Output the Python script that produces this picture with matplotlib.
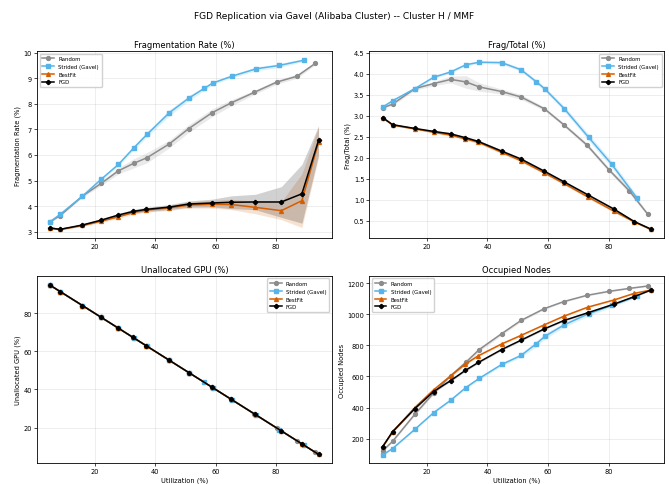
import matplotlib
matplotlib.use("Agg")
import matplotlib.pyplot as plt
import numpy as np

# utilization (x) per series
util_random = [5.35, 8.66, 16.0, 22.2, 27.9, 32.9, 37.3, 44.7, 51.1, 58.8, 65.2, 72.8, 80.2, 86.9, 92.9]
util_strided = [5.35, 8.66, 16.0, 22.2, 27.9, 32.9, 37.3, 44.7, 51.1, 56.2, 59.0, 65.4, 73.4, 81.0, 89.3]
util_bestfit = [5.35, 8.66, 16.0, 22.2, 27.9, 32.7, 37.0, 44.7, 51.1, 58.8, 65.2, 73.1, 81.7, 88.5, 94.0]
util_fgd = [5.35, 8.66, 16.0, 22.2, 27.9, 32.7, 37.0, 44.7, 51.1, 58.8, 65.2, 73.1, 81.7, 88.5, 94.0]

# Fragmentation rate (%)
frag_random = [3.39, 3.63, 4.39, 4.89, 5.38, 5.67, 5.89, 6.43, 7.03, 7.65, 8.04, 8.45, 8.85, 9.08, 9.58]
frag_strided = [3.39, 3.68, 4.39, 5.05, 5.63, 6.27, 6.80, 7.65, 8.22, 8.60, 8.81, 9.08, 9.37, 9.50, 9.71]
frag_bestfit = [3.14, 3.09, 3.24, 3.41, 3.58, 3.75, 3.84, 3.93, 4.04, 4.07, 4.06, 3.95, 3.82, 4.21, 6.50]
frag_fgd = [3.14, 3.09, 3.26, 3.45, 3.65, 3.79, 3.87, 3.96, 4.08, 4.12, 4.15, 4.16, 4.16, 4.48, 6.57]
frag_random_sd = [0.03, 0.03, 0.05, 0.08, 0.12, 0.18, 0.2, 0.15, 0.15, 0.15, 0.12, 0.08, 0.08, 0.08, 0.05]
frag_strided_sd = [0.03, 0.03, 0.04, 0.05, 0.06, 0.08, 0.1, 0.12, 0.1, 0.08, 0.06, 0.06, 0.08, 0.08, 0.05]
frag_bestfit_sd = [0.03, 0.03, 0.04, 0.05, 0.06, 0.08, 0.08, 0.1, 0.12, 0.15, 0.2, 0.25, 0.35, 1.05, 0.6]
frag_fgd_sd = [0.03, 0.03, 0.04, 0.05, 0.06, 0.08, 0.08, 0.1, 0.12, 0.15, 0.25, 0.3, 0.6, 1.15, 0.57]

# Frag/Total (%)
ft_random = [3.19, 3.28, 3.65, 3.77, 3.87, 3.81, 3.69, 3.58, 3.45, 3.17, 2.79, 2.31, 1.71, 1.21, 0.66]
ft_strided = [3.21, 3.36, 3.65, 3.92, 4.05, 4.22, 4.28, 4.27, 4.10, 3.81, 3.64, 3.17, 2.49, 1.85, 1.05]
ft_bestfit = [2.96, 2.78, 2.69, 2.61, 2.54, 2.45, 2.37, 2.13, 1.93, 1.64, 1.39, 1.07, 0.73, 0.47, 0.29]
ft_fgd = [2.96, 2.79, 2.70, 2.63, 2.57, 2.48, 2.39, 2.16, 1.97, 1.68, 1.43, 1.12, 0.78, 0.48, 0.30]
ft_random_sd = [0.02, 0.03, 0.04, 0.05, 0.08, 0.15, 0.1, 0.06, 0.06, 0.04, 0.04, 0.05, 0.05, 0.06, 0.04]
ft_strided_sd = [0.02, 0.03, 0.03, 0.03, 0.03, 0.03, 0.03, 0.04, 0.04, 0.05, 0.05, 0.06, 0.08, 0.08, 0.07]
ft_bestfit_sd = [0.02, 0.02, 0.02, 0.02, 0.03, 0.03, 0.03, 0.03, 0.03, 0.03, 0.03, 0.03, 0.03, 0.02, 0.02]
ft_fgd_sd = [0.02, 0.02, 0.02, 0.02, 0.03, 0.03, 0.03, 0.03, 0.03, 0.03, 0.03, 0.03, 0.03, 0.02, 0.02]

# Unallocated GPU (%)
ua_random = [94.6, 91.3, 84.0, 77.8, 72.1, 67.1, 62.7, 55.3, 48.9, 41.2, 34.8, 27.2, 19.8, 13.1, 7.1]
ua_strided = [94.6, 91.3, 84.0, 77.8, 72.1, 67.1, 62.7, 55.3, 48.9, 43.8, 41.0, 34.6, 26.6, 19.0, 10.7]
ua_bestfit = [94.6, 91.3, 84.0, 77.8, 72.1, 67.3, 63.0, 55.3, 48.9, 41.2, 34.8, 26.9, 18.3, 11.5, 6.0]
ua_fgd = [94.6, 91.3, 84.0, 77.8, 72.1, 67.3, 63.0, 55.3, 48.9, 41.2, 34.8, 26.9, 18.3, 11.5, 6.0]
ua_sd = [0.3] * 15

# Occupied nodes
on_random = [122, 183, 357, 493, 605, 692, 773, 875, 960, 1036, 1081, 1121, 1147, 1166, 1181]
on_strided = [95, 137, 260, 367, 448, 529, 588, 677, 735, 811, 858, 932, 1003, 1056, 1115]
on_bestfit = [148, 245, 400, 514, 605, 680, 733, 809, 864, 932, 987, 1045, 1091, 1134, 1155]
on_fgd = [148, 245, 393, 503, 574, 639, 690, 773, 833, 906, 959, 1009, 1064, 1113, 1155]
on_random_sd = [5, 6, 8, 10, 12, 14, 12, 10, 8, 6, 5, 5, 4, 4, 3]
on_strided_sd = [3, 4, 5, 6, 6, 8, 10, 10, 12, 20, 18, 15, 15, 10, 8]
on_bestfit_sd = [4, 6, 6, 6, 6, 6, 6, 6, 6, 6, 5, 5, 5, 4, 3]
on_fgd_sd = [4, 6, 6, 6, 6, 6, 6, 6, 6, 6, 5, 5, 5, 4, 3]

names = ["Random", "Strided (Gavel)", "BestFit", "FGD"]
colors = ["#8c8c8c", "#56b4e9", "#d55e00", "#000000"]
markers = ["o", "s", "^", "P"]
utils = [util_random, util_strided, util_bestfit, util_fgd]

panels = [
    ("Fragmentation Rate (%)", [frag_random, frag_strided, frag_bestfit, frag_fgd],
     [frag_random_sd, frag_strided_sd, frag_bestfit_sd, frag_fgd_sd], "upper left"),
    ("Frag/Total (%)", [ft_random, ft_strided, ft_bestfit, ft_fgd],
     [ft_random_sd, ft_strided_sd, ft_bestfit_sd, ft_fgd_sd], "upper right"),
    ("Unallocated GPU (%)", [ua_random, ua_strided, ua_bestfit, ua_fgd],
     [ua_sd, ua_sd, ua_sd, ua_sd], "upper right"),
    ("Occupied Nodes", [on_random, on_strided, on_bestfit, on_fgd],
     [on_random_sd, on_strided_sd, on_bestfit_sd, on_fgd_sd], "upper left"),
]

fig, axes = plt.subplots(2, 2, figsize=(6.69, 4.85), dpi=100)
fig.subplots_adjust(left=0.055, right=0.993, top=0.893, bottom=0.043, wspace=0.126, hspace=0.2)
fig.suptitle("FGD Replication via Gavel (Alibaba Cluster) -- Cluster H / MMF", fontsize=6.5, y=0.975)

for i, (title, series, sds, loc) in enumerate(panels):
    ax = axes.flat[i]
    for name, c, m, x, y, sd in zip(names, colors, markers, utils, series, sds):
        x = np.array(x)
        y = np.array(y)
        sd = np.array(sd)
        ax.fill_between(x, y - sd, y + sd, color=c, alpha=0.18, linewidth=0)
        ax.plot(x, y, color=c, marker=m, markersize=2.8, linewidth=1.1, label=name)
    ax.set_title(title, fontsize=6, pad=3)
    ax.set_ylabel(title, fontsize=4.8, labelpad=2)
    if i >= 2:
        ax.set_xlabel("Utilization (%)", fontsize=4.8, labelpad=2)
    ax.tick_params(labelsize=4.8, length=2, width=0.5, pad=1.5)
    ax.grid(True, alpha=0.3, linewidth=0.5)
    for s in ax.spines.values():
        s.set_linewidth(0.6)
    ax.legend(loc=loc, fontsize=3.9, handlelength=2.2, framealpha=0.9, borderpad=0.5, labelspacing=0.5)

axes[0, 0].set_ylim(2.74, 10.07)
axes[0, 0].set_yticks(range(3, 11))
axes[0, 1].set_ylim(0.08, 4.55)
axes[1, 0].set_ylim(1.4, 99.6)
axes[1, 0].set_yticks([20, 40, 60, 80])
axes[1, 1].set_ylim(43, 1247)

plt.savefig("out.png", dpi=100)
